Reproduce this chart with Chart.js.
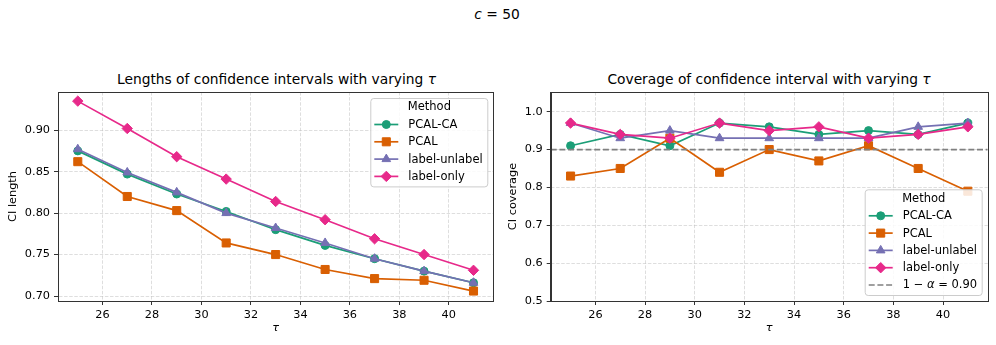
<!DOCTYPE html>
<html>
<head>
<meta charset="utf-8">
<script src="https://cdn.jsdelivr.net/npm/chart.js@4.4.0/dist/chart.umd.min.js"></script>
<style>
  body { margin: 0; width: 996px; height: 345px; background: #fff; position: relative; overflow: hidden;
         font-family: "DejaVu Sans", sans-serif; color: #000; }
  .ttl { position: absolute; white-space: nowrap; transform: translate(-50%, -50%); font-size: 13.8px; }
  #supt { left: 497px; top: 14px; }
  #t1 { left: 276.5px; top: 79px; }
  #t2 { left: 769px; top: 79px; }
  .pane { position: absolute; top: 60px; height: 285px; }
</style>
</head>
<body>
<div class="ttl" id="supt"><i>c</i> = 50</div>
<div class="ttl" id="t1">Lengths of confidence intervals with varying <i>τ</i></div>
<div class="ttl" id="t2">Coverage of confidence interval with varying <i>τ</i></div>
<div class="pane" style="left:0;width:500px"><canvas id="lenChart" width="500" height="285"></canvas></div>
<div class="pane" style="left:500px;width:496px"><canvas id="covChart" width="496" height="285"></canvas></div>

<script>
// tau values on x axis
const tau = [25, 27, 29, 31, 33, 35, 37, 39, 41];
const xTicks = [26, 28, 30, 32, 34, 36, 38, 40];
const xMin = 24.2, xMax = 41.8;

// CI length (left panel)
const lenPcalCa       = [0.875, 0.847, 0.823, 0.802, 0.780, 0.761, 0.745, 0.730, 0.716];
const lenPcal         = [0.862, 0.820, 0.803, 0.764, 0.750, 0.732, 0.721, 0.719, 0.706];
const lenLabelUnlabel = [0.877, 0.849, 0.825, 0.800, 0.782, 0.764, 0.745, 0.730, 0.716];
const lenLabelOnly    = [0.935, 0.902, 0.868, 0.841, 0.814, 0.792, 0.769, 0.750, 0.731];
const lenTicks = [0.70, 0.75, 0.80, 0.85, 0.90];

// CI coverage (right panel)
const covPcalCa       = [0.91, 0.94, 0.91, 0.97, 0.96, 0.94, 0.95, 0.94, 0.97];
const covPcal         = [0.83, 0.85, 0.93, 0.84, 0.90, 0.87, 0.91, 0.85, 0.79];
const covLabelUnlabel = [0.97, 0.93, 0.95, 0.93, 0.93, 0.93, 0.93, 0.96, 0.97];
const covLabelOnly    = [0.97, 0.94, 0.93, 0.97, 0.95, 0.96, 0.93, 0.94, 0.96];
const covTicks = [0.5, 0.6, 0.7, 0.8, 0.9, 1.0];
const targetCoverage = 0.90;

const methodNames = ['PCAL-CA', 'PCAL', 'label-unlabel', 'label-only'];
const methodColors = ['#1b9e77', '#d95f02', '#7570b3', '#e7298a'];
const methodMarkers = ['circle', 'rect', 'triangle', 'rectRot'];
const markerRadius = { circle: 4, rect: 5.7, triangle: 5, rectRot: 5.2 };

Chart.defaults.font.family = '"DejaVu Sans", sans-serif';
Chart.defaults.font.size = 11.3;
Chart.defaults.color = '#000';

const FONT = '"DejaVu Sans", sans-serif';

function drawMarker(ctx, style, r, x, y) {
    ctx.beginPath();
    if (style === 'circle') {
        ctx.arc(x, y, r, 0, Math.PI * 2);
    } else if (style === 'rect') {
        const s = r * Math.SQRT1_2;
        ctx.rect(x - s, y - s, 2 * s, 2 * s);
    } else if (style === 'triangle') {
        ctx.moveTo(x, y - r);
        ctx.lineTo(x + r * Math.sin(2 * Math.PI / 3), y - r * Math.cos(2 * Math.PI / 3));
        ctx.lineTo(x + r * Math.sin(4 * Math.PI / 3), y - r * Math.cos(4 * Math.PI / 3));
        ctx.closePath();
    } else if (style === 'rectRot') {
        ctx.moveTo(x, y - r); ctx.lineTo(x + r, y); ctx.lineTo(x, y + r); ctx.lineTo(x - r, y);
        ctx.closePath();
    }
    ctx.fill();
    ctx.stroke();
}

// full box around the axes, like matplotlib spines
const framePlugin = {
    id: 'frame',
    afterDatasetsDraw(chart) {
        const a = chart.chartArea, ctx = chart.ctx;
        ctx.save();
        ctx.strokeStyle = '#333';
        ctx.lineWidth = 1;
        ctx.strokeRect(Math.round(a.left) + 0.5, Math.round(a.top) + 0.5,
                       Math.round(a.right - a.left), Math.round(a.bottom - a.top));
        ctx.restore();
    }
};

// label text; a greek alpha is set in italics like mathtext
function drawLabel(ctx, text, x, y) {
    const parts = text.split('α');
    let cx = x;
    parts.forEach((p, i) => {
        if (i > 0) {
            ctx.font = 'italic 11.5px ' + FONT;
            ctx.fillText('α', cx, y);
            cx += ctx.measureText('α').width;
        }
        ctx.font = '11.5px ' + FONT;
        ctx.fillText(p, cx, y);
        cx += ctx.measureText(p).width;
    });
}

// legend drawn inside the plot area with a title
const boxLegend = {
    id: 'boxLegend',
    afterDraw(chart, args, opts) {
        const ctx = chart.ctx, a = chart.chartArea;
        const items = chart.data.datasets.filter(d => d.label);
        const w = 117, rowH = 17.3;
        const h = 26.5 + rowH * (items.length - 1) + 10;
        const left = a.right - 6 - w;
        const top = opts.corner === 'upper' ? a.top + 6 : a.bottom - 6 - h;
        ctx.save();
        ctx.fillStyle = 'rgba(255,255,255,0.85)';
        ctx.strokeStyle = '#cccccc';
        ctx.lineWidth = 1;
        ctx.beginPath();
        ctx.roundRect(left + 0.5, top + 0.5, w, h, 3);
        ctx.fill();
        ctx.stroke();
        ctx.fillStyle = '#000';
        ctx.font = '11.5px ' + FONT;
        ctx.textBaseline = 'middle';
        ctx.textAlign = 'left';
        ctx.fillText('Method', left + 37.5, top + 9.5);
        items.forEach((d, i) => {
            const y = top + 26.5 + i * rowH;
            ctx.strokeStyle = d.borderColor;
            ctx.lineWidth = d.borderWidth;
            ctx.setLineDash(d.borderDash || []);
            ctx.beginPath();
            ctx.moveTo(left + 4, y);
            ctx.lineTo(left + 28, y);
            ctx.stroke();
            ctx.setLineDash([]);
            if (d.pointStyle && d.pointRadius > 0) {
                ctx.fillStyle = d.pointBackgroundColor;
                ctx.lineWidth = 1;
                drawMarker(ctx, d.pointStyle, d.pointRadius, left + 16, y);
            }
            ctx.fillStyle = '#000';
            drawLabel(ctx, d.label, left + 38, y + 0.5);
        });
        ctx.restore();
    }
};

function methodDatasets(series) {
    return series.map((vals, i) => ({
        label: methodNames[i],
        data: tau.map((t, k) => ({ x: t, y: vals[k] })),
        borderColor: methodColors[i],
        backgroundColor: methodColors[i],
        pointBackgroundColor: methodColors[i],
        pointBorderColor: methodColors[i],
        pointBorderWidth: 1,
        pointStyle: methodMarkers[i],
        pointRadius: markerRadius[methodMarkers[i]],
        borderWidth: 1.7,
        order: 4 - i
    }));
}

function makeOptions(cfg) {
    return {
        responsive: false,
        animation: false,
        layout: { padding: { top: 32, right: cfg.padRight, left: 0, bottom: 0 } },
        plugins: {
            legend: { display: false },
            tooltip: { enabled: false },
            boxLegend: { corner: cfg.corner }
        },
        scales: {
            x: {
                type: 'linear', min: xMin, max: xMax,
                afterBuildTicks: s => { s.ticks = xTicks.map(v => ({ value: v })); },
                afterFit: s => { s.height = 44; },
                ticks: { padding: 3, maxRotation: 0, callback: v => String(v) },
                grid: { color: 'rgba(185,185,185,0.6)', lineWidth: 0.8, tickColor: '#333', tickLength: 4, tickWidth: 1 },
                border: { color: '#333', width: 1, dash: [3.5, 1.6] },
                title: { display: true, text: 'τ', font: { size: 11.3, style: 'italic' }, padding: { top: 0, bottom: 10.4 } }
            },
            y: {
                type: 'linear', min: cfg.yMin, max: cfg.yMax,
                afterBuildTicks: s => { s.ticks = cfg.yTicks.map(v => ({ value: v })); },
                afterFit: s => { s.width = cfg.yWidth; },
                ticks: { padding: 4, callback: v => v.toFixed(cfg.decimals) },
                grid: { color: 'rgba(185,185,185,0.6)', lineWidth: 0.8, tickColor: '#333', tickLength: 4, tickWidth: 1 },
                border: { color: '#333', width: 1, dash: [3.5, 1.6] },
                title: { display: true, text: cfg.yTitle, font: { size: 11.3 }, padding: { top: 6.5, bottom: 0 } }
            }
        }
    };
}

new Chart(document.getElementById('lenChart'), {
    type: 'line',
    data: { datasets: methodDatasets([lenPcalCa, lenPcal, lenLabelUnlabel, lenLabelOnly]) },
    options: makeOptions({ padRight: 5, yWidth: 58, yMin: 0.694, yMax: 0.946, yTicks: lenTicks,
                           decimals: 2, yTitle: 'CI length', corner: 'upper' }),
    plugins: [framePlugin, boxLegend]
});

const covSets = methodDatasets([covPcalCa, covPcal, covLabelUnlabel, covLabelOnly]);
covSets.push({
    label: '1 − α = 0.90',
    data: [{ x: xMin, y: targetCoverage }, { x: xMax, y: targetCoverage }],
    borderColor: '#808080',
    borderWidth: 1.7,
    borderDash: [6, 2.7],
    pointRadius: 0,
    order: 0
});

new Chart(document.getElementById('covChart'), {
    type: 'line',
    data: { datasets: covSets },
    options: makeOptions({ padRight: 8.3, yWidth: 50.7, yMin: 0.5, yMax: 1.052, yTicks: covTicks,
                           decimals: 1, yTitle: 'CI coverage', corner: 'lower' }),
    plugins: [framePlugin, boxLegend]
});
</script>
</body>
</html>
